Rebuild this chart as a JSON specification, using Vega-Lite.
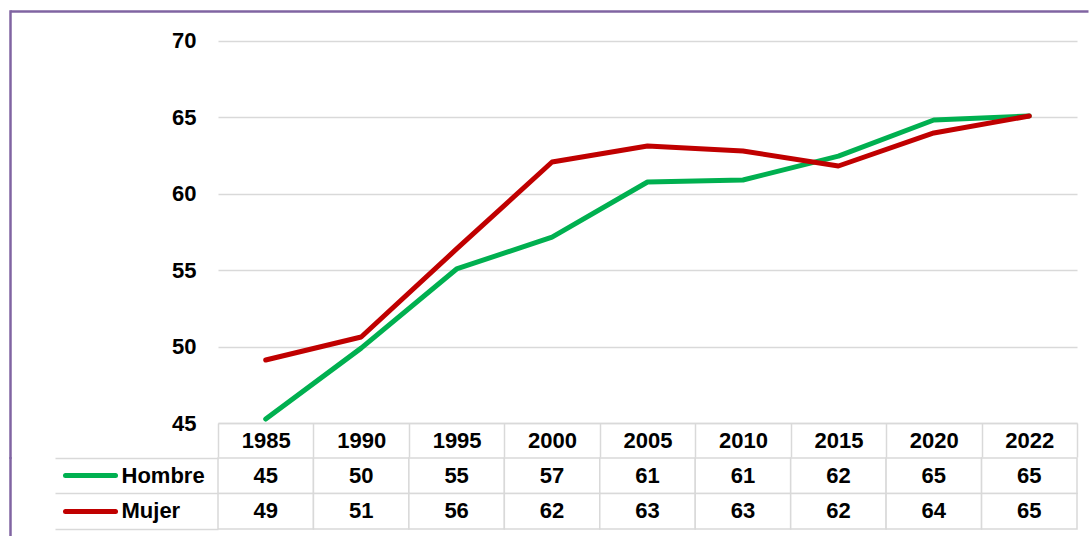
{
  "$schema": "https://vega.github.io/schema/vega-lite/v6.json",
  "background": "white",
  "padding": {"left": 8, "top": 9, "right": 0, "bottom": 0},
  "spacing": -1,
  "config": {
    "view": {"stroke": null},
    "font": "Liberation Sans",
    "axis": {"labelFont": "Liberation Sans", "labelFontWeight": "bold", "labelFontSize": 22, "labelColor": "#000000"}
  },
  "data": {
    "values": [
      {"year": "1985", "serie": "Hombre", "value": 45.26},
      {"year": "1990", "serie": "Hombre", "value": 49.9},
      {"year": "1995", "serie": "Hombre", "value": 55.08},
      {"year": "2000", "serie": "Hombre", "value": 57.17},
      {"year": "2005", "serie": "Hombre", "value": 60.77},
      {"year": "2010", "serie": "Hombre", "value": 60.9},
      {"year": "2015", "serie": "Hombre", "value": 62.47},
      {"year": "2020", "serie": "Hombre", "value": 64.83},
      {"year": "2022", "serie": "Hombre", "value": 65.09},
      {"year": "1985", "serie": "Mujer", "value": 49.12},
      {"year": "1990", "serie": "Mujer", "value": 50.63},
      {"year": "1995", "serie": "Mujer", "value": 56.39},
      {"year": "2000", "serie": "Mujer", "value": 62.08},
      {"year": "2005", "serie": "Mujer", "value": 63.13},
      {"year": "2010", "serie": "Mujer", "value": 62.8},
      {"year": "2015", "serie": "Mujer", "value": 61.82},
      {"year": "2020", "serie": "Mujer", "value": 63.98},
      {"year": "2022", "serie": "Mujer", "value": 65.09}
    ]
  },
  "vconcat": [
    {
      "width": 859,
      "height": 446,
      "layer": [
        {
          "mark": {"type": "line", "strokeWidth": 5, "strokeCap": "round", "strokeJoin": "round"},
          "encoding": {
            "x": {
              "field": "year", "type": "ordinal", "sort": null, "bandPosition": 0.5,
              "scale": {"type": "band", "paddingInner": 0, "paddingOuter": 0},
              "axis": {"title": null, "offset": -34, "domainColor": "#D9D9D9", "domainWidth": 1.5, "tickColor": "#D9D9D9", "tickWidth": 1.5, "tickSize": 34, "tickBand": "extent", "labelAngle": 0, "labelBaseline": "middle", "labelPadding": -17}
            },
            "y": {
              "field": "value", "type": "quantitative",
              "scale": {"domain": [42.775, 71.963], "nice": false, "zero": false},
              "axis": {"title": null, "orient": "left", "values": [45, 50, 55, 60, 65, 70], "grid": true, "gridColor": "#D9D9D9", "gridWidth": 1.5, "ticks": false, "domain": false, "labelPadding": 22}
            },
            "color": {
              "field": "serie", "type": "nominal",
              "scale": {"domain": ["Hombre", "Mujer"], "range": ["#00B050", "#C00000"]},
              "legend": null
            }
          }
        },
        {
          "mark": {"type": "point", "opacity": 0},
          "encoding": {
            "y": {
              "field": "value", "type": "quantitative",
              "axis": {"title": null, "orient": "left", "offset": 208, "grid": false, "domain": true, "domainColor": "#8064A2", "domainWidth": 2.5, "domainCap": "square", "ticks": false, "labels": false}
            }
          }
        },
        {
          "mark": {"type": "point", "opacity": 0},
          "encoding": {
            "y": {
              "field": "value", "type": "quantitative",
              "axis": {"title": null, "orient": "left", "offset": -870, "values": [71.963], "grid": false, "domain": false, "ticks": true, "tickSize": 1078, "tickColor": "#8064A2", "tickWidth": 2.5, "labels": false}
            }
          }
        }
      ],
      "resolve": {"axis": {"y": "independent"}}
    },
    {
      "width": 859,
      "height": 79,
      "layer": [
        {
          "mark": {"type": "rect", "fill": "white", "stroke": "#D9D9D9", "strokeWidth": 1.5},
          "encoding": {
            "x": {"field": "year", "type": "ordinal", "sort": null, "scale": {"type": "band", "paddingInner": 0, "paddingOuter": 0}, "axis": null},
            "y": {
              "field": "serie", "type": "nominal",
              "scale": {"domain": ["Hombre", "Mujer"], "paddingInner": 0, "paddingOuter": 0.1127, "align": 0},
              "axis": {"title": null, "orient": "left", "labels": false, "domain": false, "tickBand": "extent", "tickSize": 163, "tickColor": "#D9D9D9", "tickWidth": 1.5}
            }
          }
        },
        {
          "mark": {"type": "text", "fontSize": 22, "fontWeight": "bold", "font": "Liberation Sans", "color": "#000000"},
          "encoding": {
            "x": {"field": "year", "type": "ordinal", "sort": null, "bandPosition": 0.5, "axis": null},
            "y": {
              "field": "serie", "type": "nominal",
              "axis": {
                "title": null, "orient": "left", "offset": 103, "domain": false,
                "tickSize": 50, "tickWidth": 5, "tickCap": "round",
                "tickColor": {"condition": {"test": "datum.value === 'Hombre'", "value": "#00B050"}, "value": "#C00000"},
                "labelAlign": "left", "labelPadding": -56
              }
            },
            "text": {"field": "value", "type": "quantitative", "format": ".0f"}
          }
        },
        {
          "mark": {"type": "point", "opacity": 0},
          "encoding": {
            "y": {
              "field": "serie", "type": "nominal",
              "axis": {"title": null, "orient": "left", "offset": 163, "domain": false, "ticks": true, "tickBand": "extent", "tickSize": 0, "labels": false}
            }
          }
        },
        {
          "mark": {"type": "point", "opacity": 0},
          "encoding": {
            "y": {
              "field": "serie", "type": "nominal",
              "axis": {"title": null, "orient": "left", "offset": 208, "domain": true, "domainColor": "#8064A2", "domainWidth": 2.5, "domainCap": "square", "ticks": false, "labels": false}
            }
          }
        }
      ],
      "resolve": {"axis": {"y": "independent"}}
    }
  ]
}
